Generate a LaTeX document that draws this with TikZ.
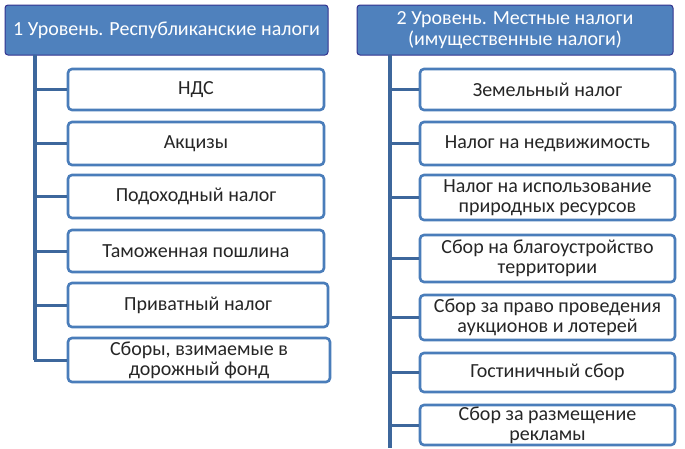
\documentclass[tikz,border=0pt]{standalone}
\usepackage{fontspec}
\setmainfont{Carlito}
\begin{document}
\begin{tikzpicture}[x=1pt,y=-1pt,
  head/.style={draw=blue!45!black!80!white, line width=1pt, fill=headblue, rounded corners=3pt,
    text=white, font=\fontsize{20}{20.5}\selectfont, align=center, inner sep=0pt},
  item/.style={draw=boxblue, line width=2.6pt, fill=white, rounded corners=4pt,
    text=black!85, font=\fontsize{20}{20}\selectfont, align=center, inner sep=0pt},
  link/.style={draw=trunkblue, line width=3pt},
  trunk/.style={draw=trunkblue, line width=3.6pt}]
\definecolor{headblue}{HTML}{4F81BD}
\definecolor{boxblue}{HTML}{4A7DBA}
\definecolor{trunkblue}{HTML}{3D679C}
\useasboundingbox (0,0) rectangle (685,448);
\fill[white] (0,0) rectangle (685,448);

% left column
\node[head, minimum width=323pt, minimum height=50pt] (lh) at (166.5,30) {1 Уровень. Республиканские налоги};
\coordinate (ltop) at (35,55);
\node[item, minimum width=256pt, minimum height=41pt] (l1) at (196,89.5) {НДС};
\node[item, minimum width=256pt, minimum height=43pt] (l2) at (196,143.5) {Акцизы};
\node[item, minimum width=256pt, minimum height=43pt] (l3) at (196,196.5) {Подоходный налог};
\node[item, minimum width=256pt, minimum height=42pt] (l4) at (196,251) {Таможенная пошлина};
\node[item, minimum width=260pt, minimum height=44pt] (l5) at (198,305) {Приватный налог};
\node[item, minimum width=262pt, minimum height=44pt] (l6) at (199,360) {Сборы, взимаемые в\\дорожный фонд};
\draw[trunk] (ltop) -- (ltop |- l6.west);
\foreach \n in {l1,l2,l3,l4,l5,l6} \draw[link] (\n.west) -| (ltop);

% right column
\node[head, minimum width=316pt, minimum height=50pt] (rh) at (515,30) {2 Уровень. Местные налоги\\(имущественные налоги)};
\coordinate (rtop) at (390,55);
\coordinate (rbot) at (390,448);
\node[item, minimum width=255pt, minimum height=41pt] (r1) at (547.5,89.5) {Земельный налог};
\node[item, minimum width=255pt, minimum height=43pt] (r2) at (547.5,143.5) {Налог на недвижимость};
\node[item, minimum width=255pt, minimum height=45pt] (r3) at (547.5,197.5) {Налог на использование\\природных ресурсов};
\node[item, minimum width=255pt, minimum height=47pt] (r4) at (547.5,258.5) {Сбор на благоустройство\\территории};
\node[item, minimum width=255pt, minimum height=45pt] (r5) at (547.5,317.5) {Сбор за право проведения\\аукционов и лотерей};
\node[item, minimum width=255pt, minimum height=39pt] (r6) at (547.5,372.5) {Гостиничный сбор};
\node[item, minimum width=255pt, minimum height=40pt] (r7) at (547.5,425) {Сбор за размещение\\рекламы};
\draw[trunk] (rtop) -- (rbot);
\foreach \n in {r1,r2,r3,r4,r5,r6,r7} \draw[link] (\n.west) -| (rtop);
\end{tikzpicture}
\end{document}
